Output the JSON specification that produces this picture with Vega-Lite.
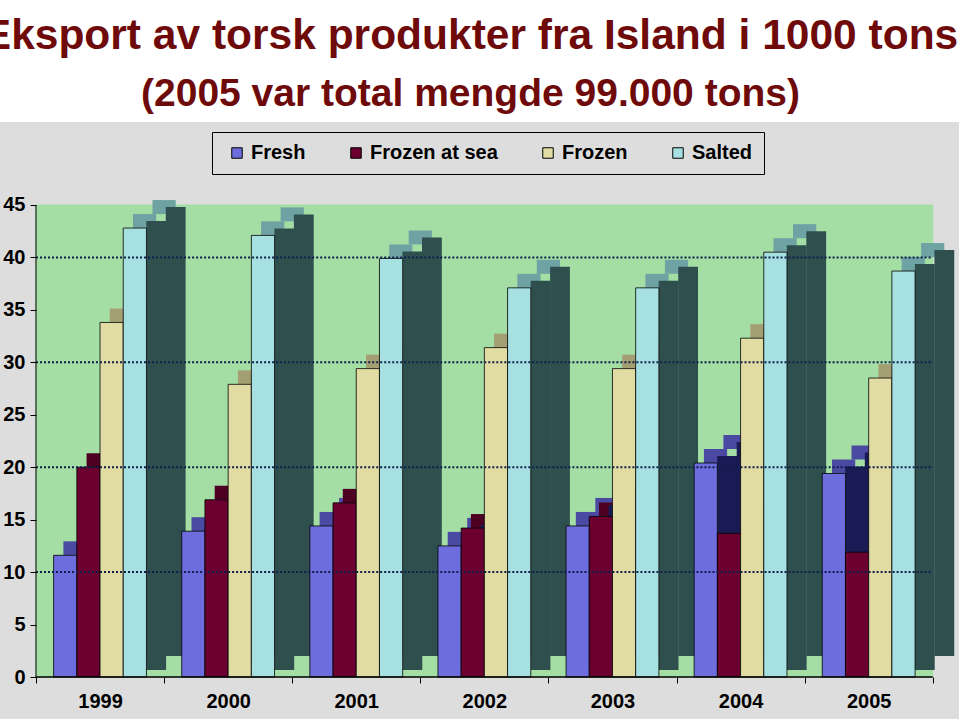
{
  "$schema": "https://vega.github.io/schema/vega-lite/v6.json",
  "width": 959,
  "height": 597,
  "autosize": {"type": "none"},
  "padding": {"left": 0, "top": 122, "right": 0, "bottom": 0},
  "background": "#ffffff",
  "config": {"view": {"fill": "#dddddd", "stroke": null}, "font": "Liberation Sans"},
  "title": {
    "text": "Eksport av torsk produkter fra Island i 1000 tons",
    "subtitle": "(2005 var total mengde 99.000 tons)",
    "anchor": "middle", "frame": "group",
    "font": "Liberation Sans", "fontSize": 42.5, "fontWeight": "bold", "color": "#6e0a0a",
    "subtitleFont": "Liberation Sans", "subtitleFontSize": 39, "subtitleFontWeight": "bold", "subtitleColor": "#6e0a0a",
    "subtitlePadding": 18, "offset": 8, "dx": -9
  },
  "data": {"values": [
    {"year": "1999", "series": "Fresh", "value": 11.6},
    {"year": "1999", "series": "Frozen at sea", "value": 20.0},
    {"year": "1999", "series": "Frozen", "value": 33.8},
    {"year": "1999", "series": "Salted", "value": 42.8},
    {"year": "2000", "series": "Fresh", "value": 13.9},
    {"year": "2000", "series": "Frozen at sea", "value": 16.9},
    {"year": "2000", "series": "Frozen", "value": 27.9},
    {"year": "2000", "series": "Salted", "value": 42.1},
    {"year": "2001", "series": "Fresh", "value": 14.4},
    {"year": "2001", "series": "Frozen at sea", "value": 16.6},
    {"year": "2001", "series": "Frozen", "value": 29.4},
    {"year": "2001", "series": "Salted", "value": 39.9},
    {"year": "2002", "series": "Fresh", "value": 12.5},
    {"year": "2002", "series": "Frozen at sea", "value": 14.2},
    {"year": "2002", "series": "Frozen", "value": 31.4},
    {"year": "2002", "series": "Salted", "value": 37.1},
    {"year": "2003", "series": "Fresh", "value": 14.4},
    {"year": "2003", "series": "Frozen at sea", "value": 15.3},
    {"year": "2003", "series": "Frozen", "value": 29.4},
    {"year": "2003", "series": "Salted", "value": 37.1},
    {"year": "2004", "series": "Fresh", "value": 20.4},
    {"year": "2004", "series": "Frozen at sea", "value": 13.7},
    {"year": "2004", "series": "Frozen", "value": 32.3},
    {"year": "2004", "series": "Salted", "value": 40.5},
    {"year": "2005", "series": "Fresh", "value": 19.4},
    {"year": "2005", "series": "Frozen at sea", "value": 11.9},
    {"year": "2005", "series": "Frozen", "value": 28.5},
    {"year": "2005", "series": "Salted", "value": 38.7}
  ]},
  "encoding": {
    "x": {
      "field": "year", "type": "ordinal", "title": null,
      "scale": {"paddingInner": 0, "paddingOuter": 0.243, "align": 0.578},
      "axis": {"domain": false, "tickBand": "extent", "tickSize": 6, "tickColor": "#000", "tickWidth": 1,
        "labelFont": "Liberation Sans", "labelFontWeight": "bold", "labelFontSize": 20, "labelColor": "#000",
        "labelPadding": 8, "offset": -42, "labelAngle": 0, "grid": false, "zindex": 1}
    }
  },
  "resolve": {"scale": {"color": "independent", "xOffset": "independent"}, "legend": {"color": "independent"}},
  "layer": [
    {
      "transform": [{"filter": "datum.series === 'Fresh'"}],
      "mark": {"type": "bar", "color": "#a4dea4", "stroke": "#a4dea4", "strokeWidth": 1},
      "encoding": {
        "y": {"datum": 45, "type": "quantitative", "title": null,
          "scale": {"domain": [-4.004, 52.91], "nice": false, "zero": false},
          "axis": {"domain": false, "values": [0, 5, 10, 15, 20, 25, 30, 35, 40, 45], "tickSize": 6, "tickColor": "#000",
            "labelFont": "Liberation Sans", "labelFontWeight": "bold", "labelFontSize": 20, "labelColor": "#000",
            "labelPadding": 5, "offset": -36, "grid": false, "zindex": 1, "title": null}},
        "y2": {"datum": 0}
      }
    },
    {
      "mark": {"type": "bar", "yOffset": -28, "y2Offset": -14, "strokeWidth": 0},
      "encoding": {
        "xOffset": {"field": "series", "type": "nominal", "scale": {"domain": ["Fresh", "Frozen at sea", "Frozen", "Salted"], "range": [46.9, 139.7], "paddingInner": 0, "paddingOuter": 0}},
        "y": {"field": "value", "type": "quantitative", "title": null},
        "y2": {"field": "value"},
        "color": {"field": "series", "type": "nominal", "legend": null,
          "scale": {"domain": ["Fresh", "Frozen at sea", "Frozen", "Salted"], "range": ["#4a4aa3", "#4d0022", "#a39f73", "#6fa3a3"]}}
      }
    },
    {
      "mark": {"type": "bar", "yOffset": -14, "y2Offset": 0, "strokeWidth": 0},
      "encoding": {
        "xOffset": {"field": "series", "type": "nominal", "scale": {"domain": ["Fresh", "Frozen at sea", "Frozen", "Salted"], "range": [27.4, 120.2], "paddingInner": 0, "paddingOuter": 0}},
        "y": {"field": "value", "type": "quantitative", "title": null},
        "y2": {"field": "value"},
        "color": {"field": "series", "type": "nominal", "legend": null,
          "scale": {"domain": ["Fresh", "Frozen at sea", "Frozen", "Salted"], "range": ["#4a4aa3", "#4d0022", "#a39f73", "#6fa3a3"]}}
      }
    },
    {
      "mark": {"type": "bar", "width": 19.8, "yOffset": -21, "y2Offset": -21, "strokeWidth": 0},
      "encoding": {
        "xOffset": {"field": "series", "type": "nominal", "scale": {"domain": ["Fresh", "Frozen at sea", "Frozen", "Salted"], "range": [58.5, 151.3], "paddingInner": 0, "paddingOuter": 0}},
        "y": {"field": "value", "type": "quantitative", "title": null},
        "y2": {"datum": 0},
        "color": {"field": "series", "type": "nominal", "legend": null,
          "scale": {"domain": ["Fresh", "Frozen at sea", "Frozen", "Salted"], "range": ["#1a1a55", "#3a0018", "#6e6a4d", "#2f4f4f"]}}
      }
    },
    {
      "mark": {"type": "bar", "width": 19.8, "yOffset": -7, "y2Offset": -7, "strokeWidth": 0},
      "encoding": {
        "xOffset": {"field": "series", "type": "nominal", "scale": {"domain": ["Fresh", "Frozen at sea", "Frozen", "Salted"], "range": [39.0, 131.8], "paddingInner": 0, "paddingOuter": 0}},
        "y": {"field": "value", "type": "quantitative", "title": null},
        "y2": {"datum": 0},
        "color": {"field": "series", "type": "nominal", "legend": null,
          "scale": {"domain": ["Fresh", "Frozen at sea", "Frozen", "Salted"], "range": ["#1a1a55", "#3a0018", "#6e6a4d", "#2f4f4f"]}}
      }
    },
    {
      "mark": {"type": "bar", "stroke": "#000", "strokeWidth": 0.8},
      "encoding": {
        "xOffset": {"field": "series", "type": "nominal", "scale": {"domain": ["Fresh", "Frozen at sea", "Frozen", "Salted"], "paddingInner": 0, "paddingOuter": 0.76}},
        "y": {"field": "value", "type": "quantitative", "title": null},
        "color": {"field": "series", "type": "nominal",
          "scale": {"domain": ["Fresh", "Frozen at sea", "Frozen", "Salted"], "range": ["#6d6ddd", "#6b0030", "#e1dca3", "#a6e0e0"]},
          "legend": {"orient": "none", "legendX": 212, "legendY": 10, "direction": "horizontal", "title": null,
            "fillColor": "#dddddd", "strokeColor": "#000", "padding": 11, "symbolOffset": 4,
            "labelFont": "Liberation Sans", "labelFontSize": 20, "labelFontWeight": "bold", "labelColor": "#000",
            "symbolType": "square", "symbolSize": 110, "symbolStrokeColor": "#000", "symbolStrokeWidth": 1,
            "columnPadding": 36, "labelOffset": 4, "columns": 4}}
      }
    },
    {
      "transform": [{"filter": "datum.series === 'Fresh'"}],
      "mark": {"type": "bar", "fill": "transparent", "stroke": "#000", "strokeWidth": 1},
      "encoding": {"y": {"datum": 0, "type": "quantitative", "title": null}, "y2": {"datum": 0}}
    },
    {
      "transform": [{"filter": "datum.series === 'Fresh' && datum.year === '1999'"}],
      "mark": {"type": "rule", "color": "#000", "strokeWidth": 1},
      "encoding": {"x": {"field": "year", "type": "ordinal", "bandPosition": 0}, "y": {"datum": 0, "type": "quantitative", "title": null}, "y2": {"datum": 45}}
    },
    {
      "transform": [{"filter": "datum.series === 'Fresh'"}],
      "mark": {"type": "rule", "color": "#0d1f4d", "strokeWidth": 2, "strokeDash": [2, 2]},
      "encoding": {"x": {"field": "year", "type": "ordinal", "bandPosition": 0}, "x2": {"field": "year", "bandPosition": 1}, "y": {"datum": 10, "type": "quantitative", "title": null}}
    },
    {
      "transform": [{"filter": "datum.series === 'Fresh'"}],
      "mark": {"type": "rule", "color": "#0d1f4d", "strokeWidth": 2, "strokeDash": [2, 2]},
      "encoding": {"x": {"field": "year", "type": "ordinal", "bandPosition": 0}, "x2": {"field": "year", "bandPosition": 1}, "y": {"datum": 20, "type": "quantitative", "title": null}}
    },
    {
      "transform": [{"filter": "datum.series === 'Fresh'"}],
      "mark": {"type": "rule", "color": "#0d1f4d", "strokeWidth": 2, "strokeDash": [2, 2]},
      "encoding": {"x": {"field": "year", "type": "ordinal", "bandPosition": 0}, "x2": {"field": "year", "bandPosition": 1}, "y": {"datum": 30, "type": "quantitative", "title": null}}
    },
    {
      "transform": [{"filter": "datum.series === 'Fresh'"}],
      "mark": {"type": "rule", "color": "#0d1f4d", "strokeWidth": 2, "strokeDash": [2, 2]},
      "encoding": {"x": {"field": "year", "type": "ordinal", "bandPosition": 0}, "x2": {"field": "year", "bandPosition": 1}, "y": {"datum": 40, "type": "quantitative", "title": null}}
    }
  ]
}
